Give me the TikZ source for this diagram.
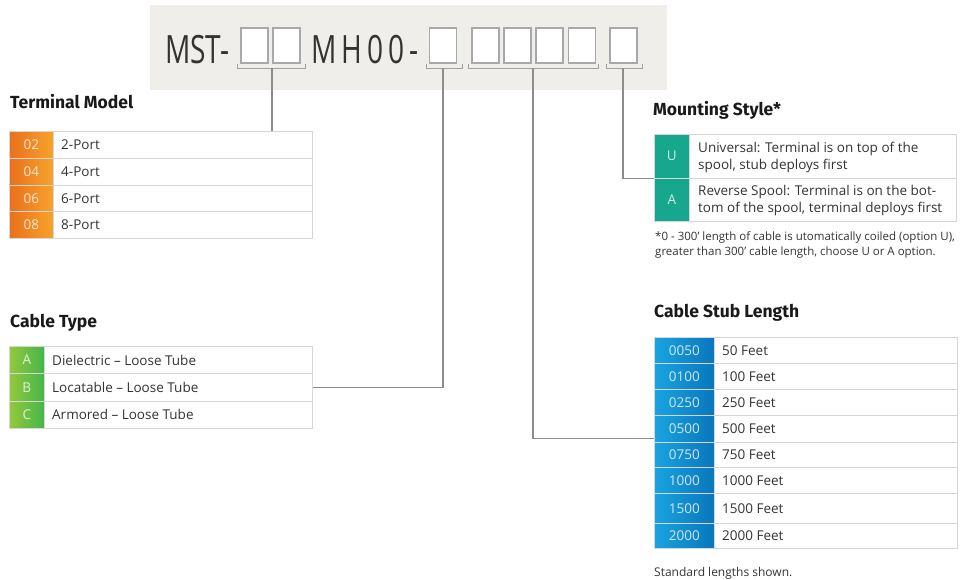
\documentclass[tikz,border=0pt]{standalone}
\usepackage{fontspec}
\setmainfont{Open Sans}
\newfontfamily\headfont{Fira Sans}
\newfontfamily\hdrfont{Open Sans}[FakeStretch=0.72]
\usetikzlibrary{calc}
\definecolor{hdrgray}{HTML}{F0EEEB}
\definecolor{slotline}{HTML}{A8A8A8}
\definecolor{brk}{HTML}{A0A0A0}
\definecolor{conn}{HTML}{8C8C8C}
\definecolor{cellline}{HTML}{D6D6D6}
\definecolor{txt}{HTML}{333333}
\definecolor{orL}{HTML}{EA701C}
\definecolor{orR}{HTML}{F6A32C}
\definecolor{grL}{HTML}{93C83E}
\definecolor{grR}{HTML}{45B649}
\definecolor{blL}{HTML}{1AA3E0}
\definecolor{blR}{HTML}{0A76BD}
\definecolor{teal}{HTML}{17A68E}
\begin{document}
\begin{tikzpicture}[x=1pt,y=-1pt,
  slot/.style={draw=slotline, line width=1.1pt, fill=white, minimum width=27pt, minimum height=35pt, inner sep=0},
  bracket/.style={draw=brk, line width=1pt},
  connline/.style={draw=conn, line width=1.3pt},
  codecell/.style={draw=cellline, line width=0.7pt, inner sep=0, anchor=north west, text=white, text opacity=0.8, font=\fontsize{13.5}{15}\selectfont},
  txtcell/.style={draw=cellline, line width=0.8pt, fill=white, inner sep=0, anchor=north west},
  rowtxt/.style={anchor=west, inner sep=0, text=txt, font=\fontsize{13.5}{15}\selectfont},
  heading/.style={anchor=base west, inner sep=0, text=black!90, font=\headfont\bfseries\fontsize{17.5}{20}\selectfont},
  note/.style={anchor=north west, inner sep=0, text=txt, align=left, font=\fontsize{11.5}{15.5}\selectfont}
]
\useasboundingbox (0,0) rectangle (978,579);

% header
\node[fill=hdrgray, anchor=north west, minimum width=517pt, minimum height=85pt, inner sep=0] (hdr) at (150,5) {};
\node[anchor=base west, inner sep=0, text=txt, font=\hdrfont\fontsize{39}{40}\selectfont] (mst) at (165,63) {MST-};
\node[anchor=base west, inner sep=0, text=txt, font=\hdrfont\fontsize{39}{40}\selectfont] (mh) at (311,63) {M\kern5pt H\kern5pt 0\kern5pt 0\kern5pt -};
\node[slot] (s1) at (254.5,45.5) {};
\node[slot] (s2) at (286.5,45.5) {};
\node[slot] (s3) at (443,45.5) {};
\node[slot] (s4) at (485.5,45.5) {};
\node[slot] (s5) at (517.5,45.5) {};
\node[slot] (s6) at (549.5,45.5) {};
\node[slot] (s7) at (582,45.5) {};
\node[slot] (s8) at (623.5,45.5) {};

% brackets
\draw[bracket] (237,63.5) -- (237,68) -- (305,68) -- (305,63.5);
\draw[bracket] (426,63.5) -- (426,68) -- (462,68) -- (462,63.5);
\draw[bracket] (468,63.5) -- (468,68) -- (598,68) -- (598,63.5);
\draw[bracket] (606,63.5) -- (606,68) -- (642,68) -- (642,63.5);
\coordinate (b1) at (272,68);
\coordinate (b2) at (443,68);
\coordinate (b3) at (533,68);
\coordinate (b4) at (623,68);

% Terminal Model
\node[heading] (tmh) at (10,108) {Terminal Model};
\foreach \i/\c/\t in {1/02/2-Port,2/04/4-Port,3/06/6-Port,4/08/8-Port}{
  \pgfmathsetmacro{\yy}{131+(\i-1)*26.75}
  \node[codecell, left color=orL, right color=orR, minimum width=44pt, minimum height=26.75pt] (tmc\i) at (9,\yy) {\c};
  \node[txtcell, minimum width=259pt, minimum height=26.75pt] (tmr\i) at (53,\yy) {};
  \node[rowtxt] (tmt\i) at ([xshift=8pt]tmr\i.west) {\t};
}

% Cable Type
\node[heading] (cth) at (10,327) {Cable Type};
\foreach \i/\c/\t in {1/A/Dielectric -- Loose Tube,2/B/Locatable -- Loose Tube,3/C/Armored -- Loose Tube}{
  \pgfmathsetmacro{\yy}{346+(\i-1)*27.33}
  \node[codecell, left color=grL, right color=grR, minimum width=35pt, minimum height=27.33pt] (ctc\i) at (9,\yy) {\c};
  \node[txtcell, minimum width=268pt, minimum height=27.33pt] (ctr\i) at (44,\yy) {};
  \node[rowtxt] (ctt\i) at ([xshift=8pt]ctr\i.west) {\t};
}

% Mounting Style
\node[heading] (msh) at (653,115) {Mounting Style*};
\node[codecell, fill=teal, minimum width=35pt, minimum height=43.5pt] (msc1) at (654,134) {U};
\node[txtcell, minimum width=267pt, minimum height=43.5pt] (msr1) at (689,134) {};
\node[rowtxt, align=left, font=\fontsize{13.5}{17}\selectfont] (mst1) at ([xshift=9pt,yshift=-1pt]msr1.west) {Universal: Terminal is on top of the\\spool, stub deploys first};
\node[codecell, fill=teal, minimum width=35pt, minimum height=43.5pt] (msc2) at (654,177.5) {A};
\node[txtcell, minimum width=267pt, minimum height=43.5pt] (msr2) at (689,177.5) {};
\node[rowtxt, align=left, font=\fontsize{13.5}{17}\selectfont] (mst2) at ([xshift=9pt,yshift=-1pt]msr2.west) {Reverse Spool: Terminal is on the bot-\\tom of the spool, terminal deploys first};
\node[note] (msn) at (655,231) {*0 - 300’ length of cable is utomatically coiled (option U),\\ greater than 300’ cable length, choose U or A option.};

% Cable Stub Length
\node[heading] (csh) at (654,317) {Cable Stub Length};
\foreach \i/\c/\t/\top/\h in {1/0050/50 Feet/337/26,2/0100/100 Feet/363/26,3/0250/250 Feet/389/26,4/0500/500 Feet/415/27,5/0750/750 Feet/442/25,6/1000/1000 Feet/467/26,7/1500/1500 Feet/493/30,8/2000/2000 Feet/523/25}{
  \node[codecell, left color=blL, right color=blR, minimum width=60pt, minimum height=\h pt] (csc\i) at (654,\top) {\c};
  \node[txtcell, minimum width=243pt, minimum height=\h pt] (csr\i) at (714,\top) {};
  \node[rowtxt] (cst\i) at ([xshift=8pt]csr\i.west) {\t};
}
\node[anchor=base west, inner sep=0, text=txt, font=\fontsize{12}{14}\selectfont] (csn) at (654,576) {Standard lengths shown.};

% connectors
\draw[connline] (b1) -- (b1 |- tmr1.north);
\draw[connline] (b2) -- (b2 |- ctr2.east) -- (ctr2.east);
\coordinate (c3) at ([yshift=-9.5pt]csc4.west);
\draw[connline] (b3) -- (b3 |- c3) -- (c3);
\draw[connline] (b4) -- (b4 |- msc1.south west) -- (msc1.south west);
\end{tikzpicture}
\end{document}
